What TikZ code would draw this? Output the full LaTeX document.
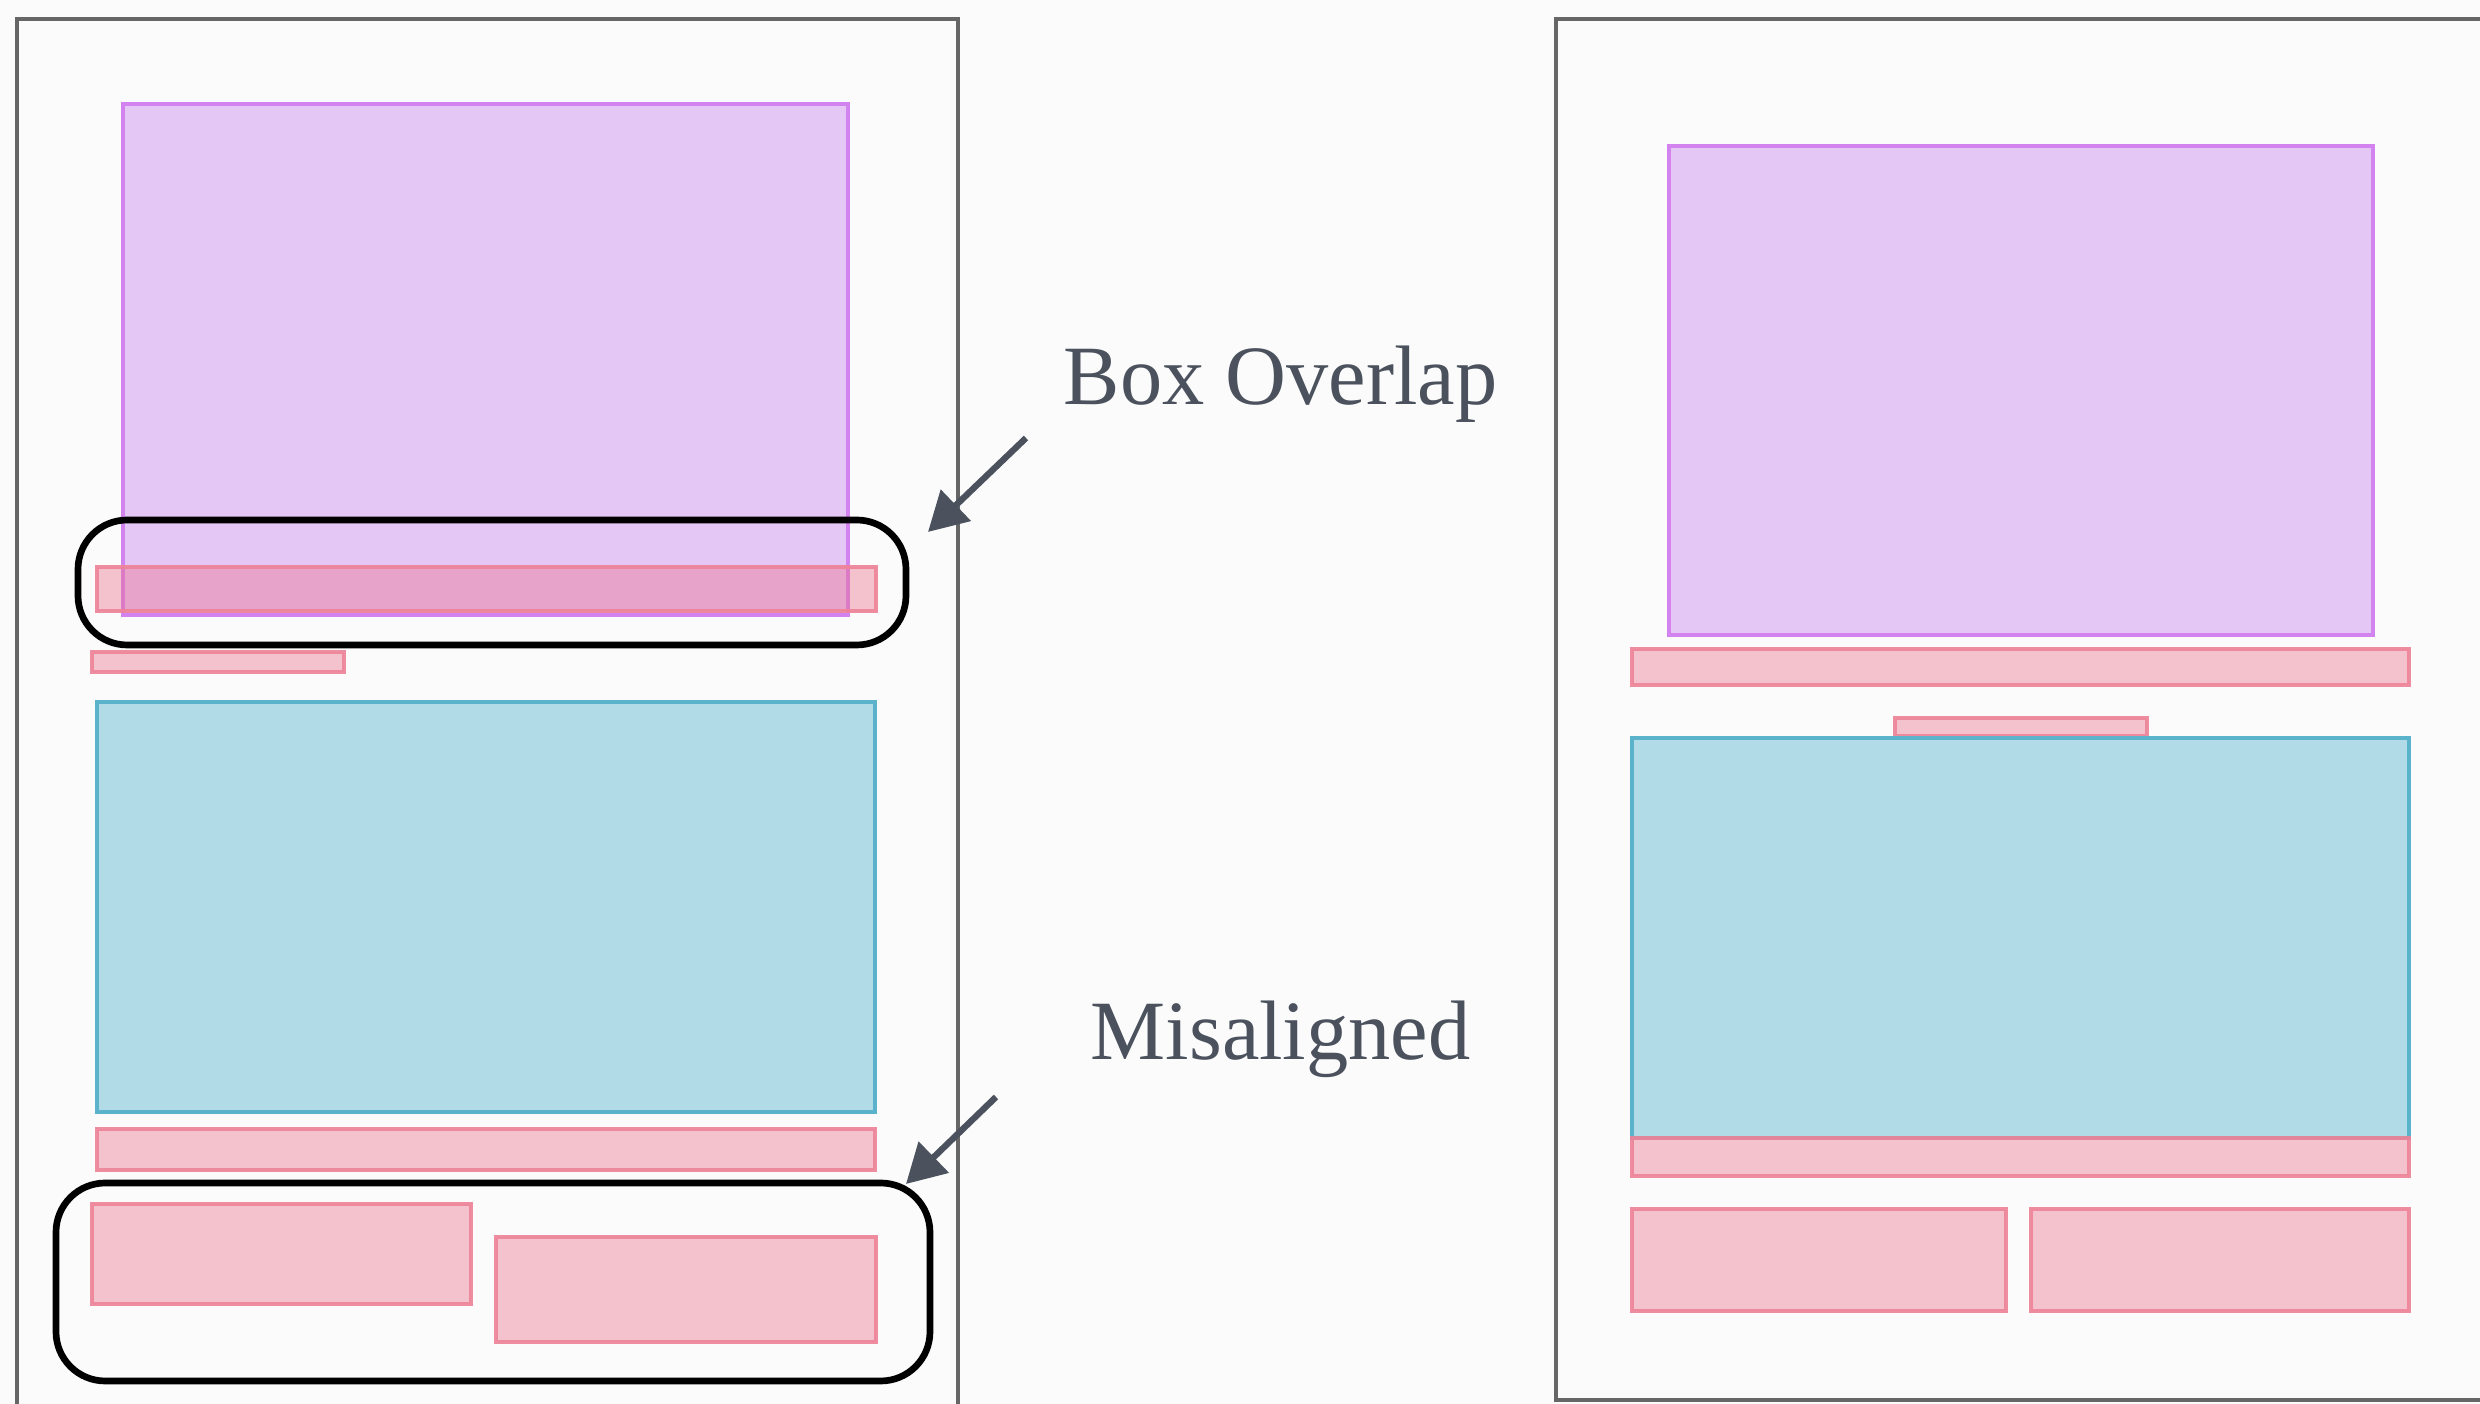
\documentclass[tikz,border=0pt]{standalone}
\usepackage{fontspec}
\setmainfont{Liberation Serif}
\usetikzlibrary{arrows.meta}
\definecolor{bgc}{HTML}{FBFBFB}
\definecolor{framec}{HTML}{666666}
\definecolor{purfill}{HTML}{E5C7F5}
\definecolor{purline}{HTML}{D283F0}
\definecolor{pinkc}{HTML}{EB6E87}
\definecolor{pinkline}{HTML}{EE8297}
\definecolor{bluefill}{HTML}{B1DBE6}
\definecolor{blueline}{HTML}{5BB3CB}
\definecolor{txtc}{HTML}{4B525E}
\tikzset{
  pagebox/.style={draw=framec, line width=1.1pt},
  purbox/.style={fill=purfill, draw=purline, line width=1pt},
  pinkbox/.style={fill=pinkc, fill opacity=0.4, draw=pinkline, draw opacity=0.9, line width=1pt},
  bluebox/.style={fill=bluefill, draw=blueline, line width=1pt},
  hlbox/.style={draw=black, line width=1.9pt, rounded corners=14pt},
  callout/.style={draw=txtc, line width=1.8pt, -{Triangle[length=11pt,width=12pt]}},
  lbl/.style={text=txtc, font=\fontsize{24}{29}\selectfont, anchor=base west, inner sep=0pt}
}
\begin{document}
\begin{tikzpicture}[x=0.01cm, y=-0.01cm]
\useasboundingbox (0,0) rectangle (2480,1404);
\fill[bgc] (0,0) rectangle (2480,1404);
\begin{scope}
\clip (0,0) rectangle (2480,1404);
% left page
\draw[pagebox] (17,1450) -- (17,19) -- (958,19) -- (958,1450);
% right page
\draw[pagebox] (2520,19) -- (1556,19) -- (1556,1400) -- (2520,1400);
\end{scope}

% ---- left page content ----
\draw[purbox] (123,104) rectangle (848,615);
\draw[pinkbox] (97,567) rectangle (876,611);
\draw[pinkbox] (92,652) rectangle (344,672);
\draw[bluebox] (97,702) rectangle (875,1112);
\draw[pinkbox] (97,1129) rectangle (875,1170);
\draw[pinkbox] (92,1204) rectangle (471,1304);
\draw[pinkbox] (496,1237) rectangle (876,1342);

\draw[hlbox] (78,520) rectangle (906,645);
\draw[hlbox] (56,1183) rectangle (930,1381);

% ---- labels and callouts ----
\node[lbl] (t1) at (1063,405) {Box Overlap};
\node[lbl] (t2) at (1090,1060) {Misaligned};
\coordinate (a1s) at (1026,438);
\coordinate (a1e) at (928,532);
\coordinate (a2s) at (996,1097);
\coordinate (a2e) at (906,1184);
\draw[callout] (a1s) -- (a1e);
\draw[callout] (a2s) -- (a2e);

% ---- right page content ----
\draw[purbox] (1669,146) rectangle (2373,635);
\draw[pinkbox] (1632,649) rectangle (2409,685);
\draw[pinkbox] (1895,718) rectangle (2147,736);
\draw[bluebox] (1632,738) rectangle (2409,1138);
\draw[pinkbox] (1632,1138) rectangle (2409,1176);
\draw[pinkbox] (1632,1209) rectangle (2006,1311);
\draw[pinkbox] (2031,1209) rectangle (2409,1311);
\end{tikzpicture}
\end{document}
